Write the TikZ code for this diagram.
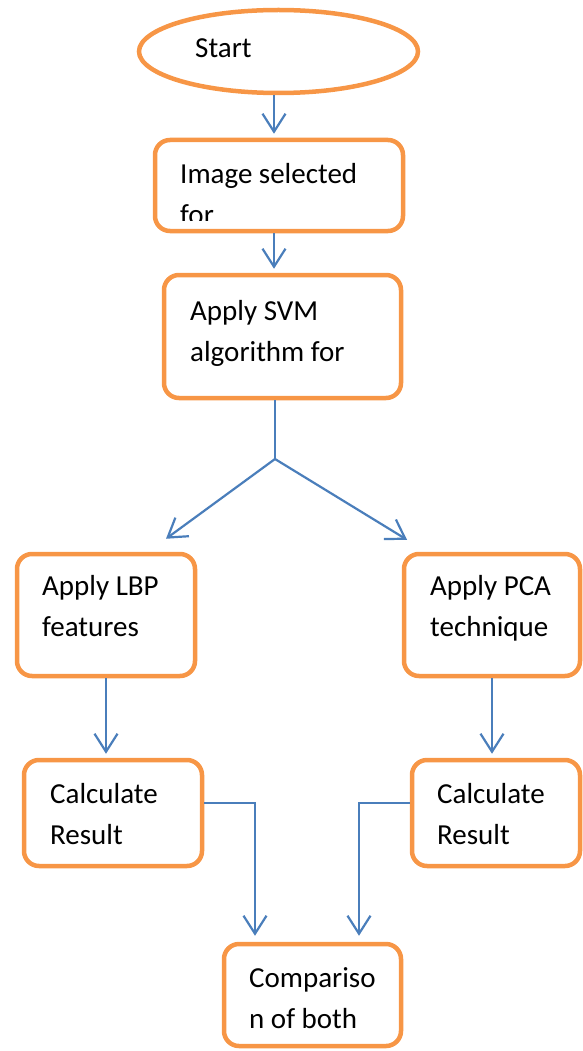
\documentclass[tikz,border=0pt]{standalone}
\usepackage{fontspec}
\setmainfont{Carlito}
\usetikzlibrary{shapes.geometric,arrows.meta}

\definecolor{boxorange}{HTML}{F79646}
\definecolor{linkblue}{HTML}{4A7EBB}

\tikzset{
  stepbox/.style={draw=boxorange, line width=4.5pt, rounded corners=15pt, inner sep=0pt},
  lbl/.style={anchor=base west, align=left, inner sep=0pt, font=\fontsize{29}{41}\selectfont},
  link/.style={draw=linkblue, line width=2.2pt},
  flow/.style={link, -{Straight Barb[length=18pt,width=23pt]}, shorten >=4pt}
}

\begin{document}
\begin{tikzpicture}[x=1pt, y=-1pt]
  \useasboundingbox (0,0) rectangle (582,1051);

  % shapes
  \node[draw=boxorange, line width=4.5pt, ellipse, inner sep=0pt,
        minimum width=279pt, minimum height=83pt] (start) at (278.5,51.5) {};
  \node[stepbox, minimum width=248pt, minimum height=91pt] (img) at (279,185.5) {};
  \node[stepbox, minimum width=237pt, minimum height=123pt] (svm) at (282.5,336.5) {};
  \node[stepbox, minimum width=178pt, minimum height=122pt] (lbp) at (106,615) {};
  \node[stepbox, minimum width=176pt, minimum height=122pt] (pca) at (492,615) {};
  \node[stepbox, minimum width=178pt, minimum height=106pt] (calcL) at (113,813) {};
  \node[stepbox, minimum width=168pt, minimum height=106pt] (calcR) at (496,813) {};
  \node[stepbox, minimum width=177pt, minimum height=102pt] (cmp) at (312.5,995) {};

  % texts (base = last line)
  \node[lbl] (tstart) at (195,58) {Start};
  \begin{scope}
    \clip (155,140) rectangle (403,220); % text cut off inside the box
    \node[lbl] (timg) at (180,224) {Image selected\\for};
  \end{scope}
  \node[lbl] (tsvm) at (190,361) {Apply SVM\\algorithm for};
  \node[lbl] (tlbp) at (42,636) {Apply LBP\\features};
  \node[lbl] (tpca) at (430,636) {Apply PCA\\technique};
  \node[lbl] (tcalcL) at (50,844) {Calculate\\Result};
  \node[lbl] (tcalcR) at (437,844) {Calculate\\Result};
  \node[lbl] (tcmp) at (249,1028) {Compariso\\n of both};

  % connectors
  \coordinate (axis) at (274,0);
  \coordinate (fork) at (275,459);
  \draw[flow] (start.south -| axis) -- (img.north -| axis);
  \draw[flow] (img.south -| axis) -- (svm.north -| axis);
  \draw[link] (svm.south -| fork) -- (fork);
  \draw[flow, shorten >=0pt] (fork) -- ([xshift=60pt,yshift=13pt]lbp.north);
  \draw[flow, shorten >=0pt] (fork) -- ([xshift=-85pt,yshift=12pt]pca.north);
  \draw[flow] (lbp.south) -- (lbp.south |- calcL.north);
  \draw[flow] (pca.south) -- (pca.south |- calcR.north);
  \draw[flow, shorten >=0pt] ([yshift=10pt]calcL.east) -| ([xshift=-57.5pt,yshift=6pt]cmp.north);
  \draw[flow, shorten >=0pt] ([yshift=10pt]calcR.west) -| ([xshift=46.5pt,yshift=6pt]cmp.north);
\end{tikzpicture}
\end{document}
